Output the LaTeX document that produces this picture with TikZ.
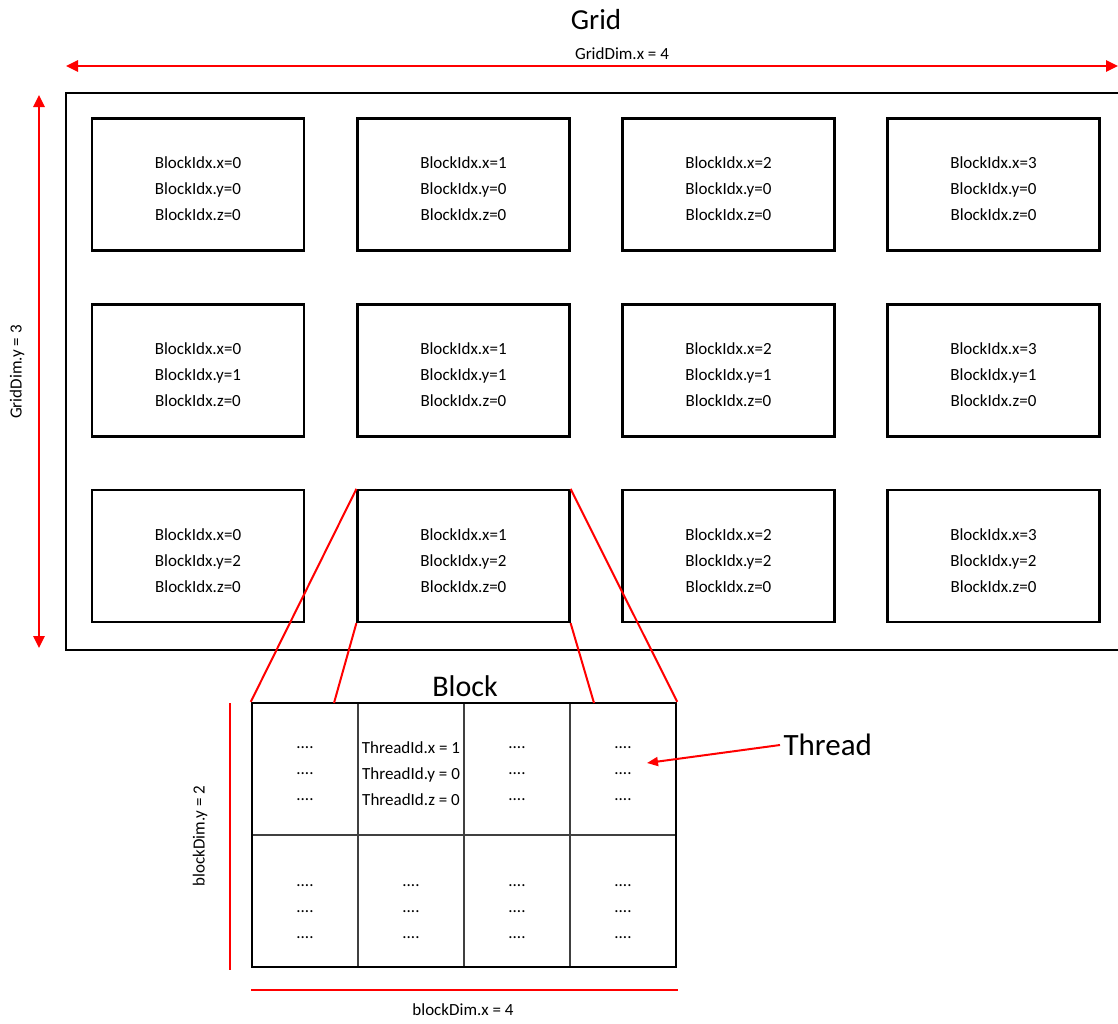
\documentclass[tikz,border=0pt]{standalone}
\usepackage{fontspec}
\setmainfont{Carlito}
\usetikzlibrary{arrows.meta}
\begin{document}
\begin{tikzpicture}[x=1pt,y=-1pt,
  boxtext/.style={font=\fontsize{17}{26}\selectfont,align=center,yshift=-4.5pt,inner sep=0pt},
  lowtext/.style={boxtext,yshift=-6pt},
  blockbox/.style={draw=black,line width=2.2pt,minimum width=212pt,minimum height=132pt,inner sep=0pt},
  cellbox/.style={draw=black!75,line width=1.2pt,minimum width=106pt,minimum height=132pt,inner sep=0pt},
  redarrow/.style={red,line width=2.5pt,{Triangle[length=12pt,width=11pt]}-{Triangle[length=12pt,width=11pt]}},
  redline/.style={red,line width=2pt},
  smalllabel/.style={font=\fontsize{17}{20}\selectfont},
  biglabel/.style={font=\fontsize{29}{32}\selectfont}]
\useasboundingbox (0,0) rectangle (1118,1023);
% Title
\node[biglabel] (gridtitle) at (596,20) {Grid};
% outer rectangle
\node[draw=black,line width=2.2pt,minimum width=1060pt,minimum height=557pt,inner sep=0pt,anchor=north west] (grid) at (65,92) {};
% dimension arrows
\coordinate (gxl) at (66,66);
\coordinate (gxr) at (1118,66);
\draw[redarrow] (gxl) -- (gxr);
\node[smalllabel] (gxlab) at (622,54) {GridDim.x = 4};
\coordinate (gyt) at (39,95);
\coordinate (gyb) at (39,648);
\draw[redarrow] (gyt) -- (gyb);
\node[smalllabel,rotate=90] (gylab) at (17,372) {GridDim.y = 3};
% blocks
\foreach \i/\x in {0/198,1/463.5,2/728.5,3/993.5}{
  \foreach \j/\y in {0/184.5,1/370.5,2/556}{
    \node[blockbox,label={[boxtext]center:BlockIdx.x=\i\\BlockIdx.y=\j\\BlockIdx.z=0}] (b\i\j) at (\x,\y) {};
  }
}
% block detail
\node[font=\fontsize{30}{32}\selectfont] (blocktitle) at (465,686) {Block};
\node[cellbox,label={[boxtext]center:....\\....\\....}] (c00) at (305,769) {};
\node[cellbox,label={[boxtext]center:ThreadId.x = 1\\ThreadId.y = 0\\ThreadId.z = 0}] (c10) at (411,769) {};
\node[cellbox,label={[boxtext]center:....\\....\\....}] (c20) at (517,769) {};
\node[cellbox,label={[boxtext]center:....\\....\\....}] (c30) at (623,769) {};
\node[cellbox,label={[lowtext]center:....\\....\\....}] (c01) at (305,901) {};
\node[cellbox,label={[lowtext]center:....\\....\\....}] (c11) at (411,901) {};
\node[cellbox,label={[lowtext]center:....\\....\\....}] (c21) at (517,901) {};
\node[cellbox,label={[lowtext]center:....\\....\\....}] (c31) at (623,901) {};
\node[draw=black,line width=2.4pt,minimum width=424pt,minimum height=264pt,inner sep=0pt] (blk) at (464,835) {};
% zoom lines
\coordinate (z1) at (334,703);
\coordinate (z2) at (594,703);
\draw[redline] (b12.north west) -- (blk.north west);
\draw[redline] (b12.south west) -- (z1);
\draw[redline] (b12.north east) -- (blk.north east);
\draw[redline] (b12.south east) -- (z2);
% thread label
\node[font=\fontsize{31}{33}\selectfont,anchor=west] (thread) at (780,745) {Thread};
\coordinate (tpt) at (647,763);
\draw[red,line width=2pt,-{Triangle[length=11pt,width=9pt]}] (thread.west) -- (tpt);
% block dims
\coordinate (byt) at (230,703);
\coordinate (byb) at (230,970);
\draw[redline,line width=2.2pt] (byt) -- (byb);
\node[smalllabel,rotate=90] (bylab) at (200,836) {blockDim.y = 2};
\coordinate (bxl) at (251,990);
\coordinate (bxr) at (678,990);
\draw[redline,line width=2.2pt] (bxl) -- (bxr);
\node[smalllabel] (bxlab) at (463,1010) {blockDim.x = 4};
\end{tikzpicture}
\end{document}
